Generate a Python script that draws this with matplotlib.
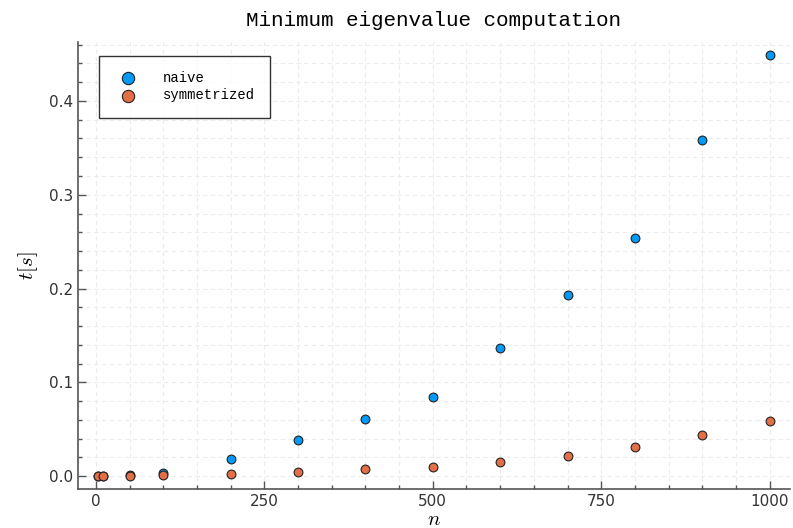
import numpy as np
import matplotlib
matplotlib.use("Agg")
import matplotlib.pyplot as plt
from matplotlib.ticker import MultipleLocator

# --------------------------------------------------
# Data
# --------------------------------------------------

n_values = [3, 10, 50, 100, 200, 300, 400, 500, 600, 700, 800, 900, 1000]

t_naive = [0.0001, 0.0002, 0.0012, 0.004, 0.018, 0.039, 0.061, 0.084,
           0.137, 0.193, 0.254, 0.358, 0.449]

t_symmetrized = [0.0001, 0.0001, 0.0005, 0.001, 0.002, 0.005, 0.008, 0.010,
                 0.015, 0.022, 0.031, 0.044, 0.059]

series_labels = ["naive", "symmetrized"]
series_colors = ["#009AFA", "#E36F47"]

# --------------------------------------------------
# Figure
# --------------------------------------------------

plt.rcParams["mathtext.fontset"] = "cm"

fig = plt.figure(figsize=(7.93, 5.28), dpi=100)
ax = fig.add_axes([0.098, 0.074, 0.898, 0.846])

for t, label, color in zip([t_naive, t_symmetrized], series_labels, series_colors):
    ax.scatter(
        n_values,
        t,
        s=40,
        color=color,
        edgecolors="#222222",
        linewidths=0.8,
        label=label,
        zorder=3
    )

ax.set_xlim(-27, 1030)
ax.set_ylim(-0.0135, 0.4625)

ax.xaxis.set_major_locator(MultipleLocator(250))
ax.xaxis.set_minor_locator(MultipleLocator(50))
ax.yaxis.set_major_locator(MultipleLocator(0.1))
ax.yaxis.set_minor_locator(MultipleLocator(0.02))
ax.yaxis.set_major_formatter(plt.FuncFormatter(lambda v, p: f"{v:.1f}"))

ax.grid(which="both", linestyle=(0, (4, 3)), color="#ececec", linewidth=0.8, zorder=0)

for side in ["top", "right"]:
    ax.spines[side].set_visible(False)
for side in ["left", "bottom"]:
    ax.spines[side].set_color("#555555")
    ax.spines[side].set_linewidth(1.2)

ax.tick_params(which="major", direction="in", length=6, width=1, color="#555555",
               labelsize=11, labelcolor="#333333")
ax.tick_params(which="minor", direction="in", length=3, width=1, color="#555555")

ax.set_xlabel("$n$", fontsize=15, labelpad=0)
ax.set_ylabel("$t[s]$", fontsize=15, labelpad=6)

ax.set_title("Minimum eigenvalue computation", family="Liberation Mono",
             fontsize=15, pad=12)

# --------------------------------------------------
# Legend
# --------------------------------------------------

legend = ax.legend(
    loc="upper left",
    bbox_to_anchor=(0.03, 0.97),
    prop={"family": "Liberation Mono", "size": 10},
    frameon=True,
    fancybox=False,
    edgecolor="black",
    borderpad=1.1,
    handletextpad=1.5,
    labelspacing=0.25,
    borderaxespad=0,
    markerscale=1.4
)
legend.get_frame().set_linewidth(1.0)

fig.savefig("out.png", dpi=100)
